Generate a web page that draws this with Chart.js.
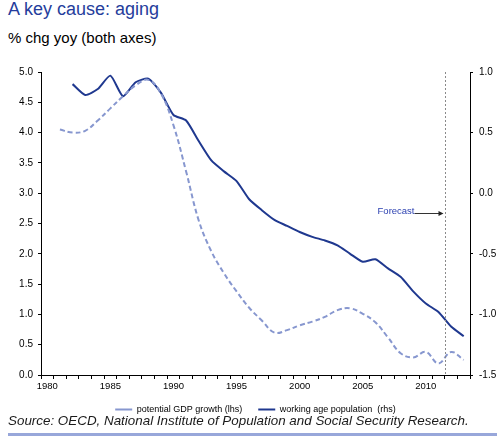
<!DOCTYPE html>
<html>
<head>
<meta charset="utf-8">
<script src="https://cdn.jsdelivr.net/npm/chart.js@4.4.1/dist/chart.umd.min.js"></script>
<style>
  body { margin: 0; background: #fff; width: 503px; height: 440px; position: relative; overflow: hidden;
         font-family: "Liberation Sans", Arial, sans-serif; }
  #title { position: absolute; left: 8px; top: 0px; font-size: 18px; line-height: 1; color: #253d9c; }
  #sub { position: absolute; left: 8px; top: 30px; font-size: 15px; line-height: 1; color: #000; }
  #wrap { position: absolute; left: 0; top: 0; width: 503px; height: 424px; }
  #src { position: absolute; left: 8px; top: 414px; font-size: 13.4px; line-height: 1; font-style: italic; color: #1a1a1a; white-space: nowrap; }
  #rule { position: absolute; left: 8px; width: 489px; top: 433px; height: 3px; background: #98a7da; }
</style>
</head>
<body>
<div id="title">A key cause: aging</div>
<div id="sub">% chg yoy (both axes)</div>
<div id="wrap"><canvas id="line-chart" width="503" height="424"></canvas></div>
<div id="src">Source: OECD, National Institute of Population and Social Security Research.</div>
<div id="rule"></div>
<script>
// Japan: potential growth vs working age population

const years = [];
for (let y = 1980; y <= 2013; y++) years.push(String(y));

// lhs, % yoy
const potentialGdp = [null, 4.05, 4.00, 4.03, 4.20, 4.40, 4.60, 4.78, 4.87, 4.65,
  4.12, 3.36, 2.55, 2.04, 1.68, 1.38, 1.11, 0.90, 0.70, 0.74,
  0.82, 0.88, 0.96, 1.07, 1.10, 1.01, 0.87, 0.62, 0.36, 0.29,
  0.38, 0.19, 0.38, 0.25];

// rhs, % yoy
const workingAge = [null, null, 0.90, 0.81, 0.86, 0.97, 0.80, 0.915, 0.945, 0.83,
  0.645, 0.60, 0.43, 0.27, 0.18, 0.10, -0.05, -0.14, -0.22, -0.27,
  -0.32, -0.36, -0.39, -0.43, -0.50, -0.565, -0.545, -0.62, -0.69, -0.81,
  -0.91, -0.98, -1.10, -1.18];

const forecastFrom = "2012";
const forecastLevel = -0.16; // rhs value where the arrow sits

Chart.defaults.font.family = '"Liberation Sans", Arial, sans-serif';
Chart.defaults.color = '#000';

const forecastMarker = {
  id: 'forecastMarker',
  afterDatasetsDraw(chart) {
    const {ctx, chartArea} = chart;
    const xs = chart.scales.x;
    const i = years.indexOf(forecastFrom);
    const x = Math.round((xs.getPixelForValue(i - 1) + xs.getPixelForValue(i)) / 2) + 0.5;
    const y = Math.round(chart.scales.yR.getPixelForValue(forecastLevel)) + 0.5;
    ctx.save();
    ctx.strokeStyle = '#8a8a8a';
    ctx.lineWidth = 1;
    ctx.setLineDash([2, 2]);
    ctx.beginPath();
    ctx.moveTo(x, chartArea.top);
    ctx.lineTo(x, chartArea.bottom);
    ctx.stroke();
    ctx.setLineDash([]);
    ctx.strokeStyle = '#333';
    ctx.beginPath();
    ctx.moveTo(x - 31, y);
    ctx.lineTo(x - 5, y);
    ctx.stroke();
    ctx.fillStyle = '#222';
    ctx.beginPath();
    ctx.moveTo(x - 2, y);
    ctx.lineTo(x - 7, y - 2.5);
    ctx.lineTo(x - 7, y + 2.5);
    ctx.closePath();
    ctx.fill();
    ctx.fillStyle = '#2a3fb0';
    ctx.font = '9.5px "Liberation Sans", Arial, sans-serif';
    ctx.textAlign = 'right';
    ctx.textBaseline = 'middle';
    ctx.fillText('Forecast', x - 31, y - 2);
    ctx.restore();
  }
};

new Chart(document.getElementById("line-chart"), {
  type: 'line',
  data: {
    labels: years,
    datasets: [
      {
        label: "potential GDP growth (lhs)",
        data: potentialGdp,
        yAxisID: 'y',
        borderColor: '#8797cf',
        backgroundColor: '#8797cf',
        borderWidth: 2,
        borderDash: [5, 3],
        pointRadius: 0,
        tension: 0.4,
        fill: false
      },
      {
        label: "working age population  (rhs)",
        data: workingAge,
        yAxisID: 'yR',
        borderColor: '#1f388f',
        backgroundColor: '#1f388f',
        borderWidth: 2,
        pointRadius: 0,
        tension: 0.2,
        fill: false
      }
    ]
  },
  options: {
    responsive: false,
    animation: false,
    layout: { padding: { top: 72, left: 8, right: 0, bottom: 0 } },
    plugins: {
      legend: {
        position: 'bottom',
        labels: {
          usePointStyle: true,
          pointStyle: 'line',
          pointStyleWidth: 17,
          padding: 16,
          font: { size: 9 },
          color: '#000'
        }
      },
      tooltip: { enabled: false },
      title: { display: false }
    },
    scales: {
      x: {
        offset: true,
        grid: { display: true, offset: true, drawOnChartArea: false, drawTicks: true, tickLength: 4, color: '#000' },
        border: { display: true, color: '#000' },
        ticks: {
          autoSkip: false,
          maxRotation: 0,
          padding: 2,
          font: { size: 9.5 },
          callback: function (v) { const l = this.getLabelForValue(v); return (+l) % 5 === 0 ? l : ''; }
        },
        afterFit: s => { s.height = 14; }
      },
      y: {
        position: 'left',
        min: 0, max: 5,
        grid: { drawOnChartArea: false, tickLength: 3, color: '#000' },
        border: { color: '#000' },
        ticks: { stepSize: 0.5, padding: 5, font: { size: 10 }, callback: v => v.toFixed(1) },
        afterFit: s => { s.width = 33; }
      },
      yR: {
        position: 'right',
        min: -1.5, max: 1.0,
        grid: { drawOnChartArea: false, tickLength: 3, color: '#000' },
        border: { color: '#000' },
        ticks: { stepSize: 0.5, padding: 6, font: { size: 10 }, callback: v => v.toFixed(1) },
        afterFit: s => { s.width = 33; }
      }
    }
  },
  plugins: [forecastMarker]
});
</script>
</body>
</html>
